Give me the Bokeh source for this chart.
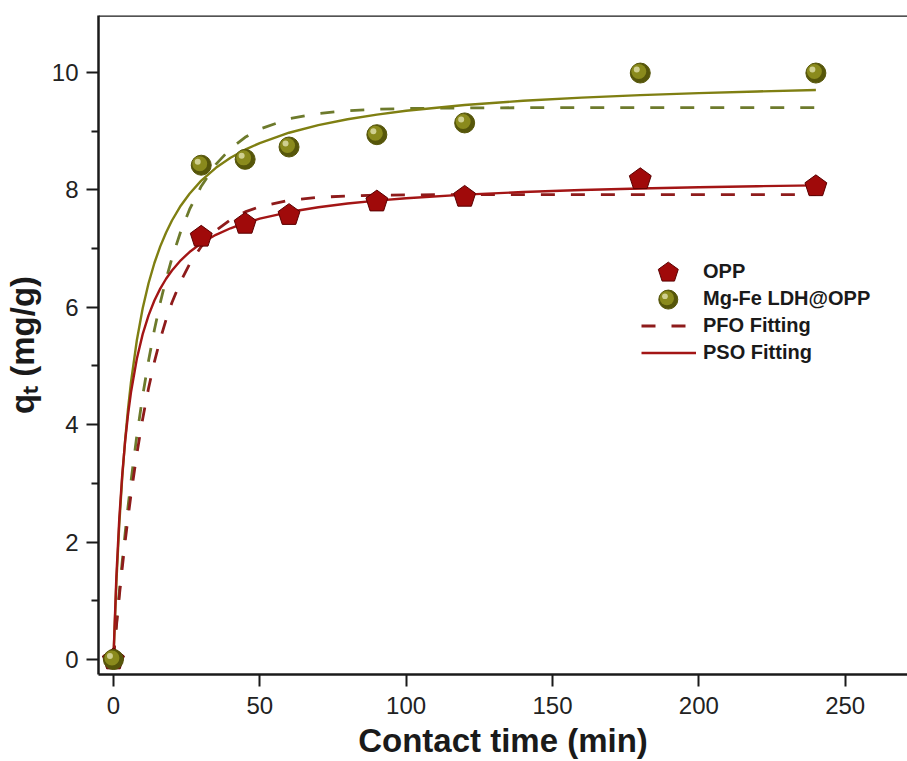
import numpy as np
from bokeh.plotting import figure
from bokeh.models import (Legend, LegendItem, Span, FixedTicker,
                          ColumnDataSource, Range1d)
from bokeh.embed import file_html
from bokeh.resources import INLINE

# ---------------- data ----------------
time_pts = [0, 30, 45, 60, 90, 120, 180, 240]
opp_q = [0.0, 7.20, 7.42, 7.57, 7.80, 7.88, 8.18, 8.06]
ldh_q = [0.0, 8.42, 8.52, 8.73, 8.94, 9.14, 9.99, 9.99]

fit_t = [0, 1, 2, 3, 4, 5, 6, 8, 10, 12, 14, 16, 18, 20, 23, 26, 30, 35, 40,
         45, 50, 60, 70, 80, 90, 100, 120, 140, 160, 180, 200, 220, 240]
opp_pfo = [0.0, 0.558, 1.076, 1.558, 2.005, 2.422, 2.809, 3.503, 4.103, 4.622,
           5.070, 5.457, 5.791, 6.081, 6.442, 6.733, 7.034, 7.305, 7.493,
           7.624, 7.714, 7.821, 7.872, 7.897, 7.909, 7.915, 7.919, 7.920,
           7.920, 7.920, 7.920, 7.920, 7.920]
ldh_pfo = [0.0, 0.591, 1.146, 1.666, 2.152, 2.608, 3.035, 3.812, 4.493, 5.091,
           5.617, 6.077, 6.482, 6.838, 7.292, 7.666, 8.062, 8.434, 8.702,
           8.895, 9.035, 9.210, 9.301, 9.348, 9.373, 9.386, 9.396, 9.399,
           9.400, 9.400, 9.400, 9.400, 9.400]
opp_pso = [0.0, 1.405, 2.400, 3.142, 3.718, 4.176, 4.550, 5.123, 5.543, 5.863,
           6.115, 6.318, 6.486, 6.627, 6.801, 6.941, 7.090, 7.234, 7.346,
           7.436, 7.509, 7.622, 7.704, 7.768, 7.817, 7.858, 7.919, 7.963,
           7.997, 8.023, 8.044, 8.062, 8.076]
ldh_pso = [0.0, 1.300, 2.301, 3.094, 3.739, 4.273, 4.723, 5.438, 5.982, 6.409,
           6.754, 7.038, 7.275, 7.478, 7.730, 7.935, 8.157, 8.375, 8.546,
           8.684, 8.797, 8.973, 9.103, 9.203, 9.282, 9.347, 9.445, 9.517,
           9.571, 9.614, 9.648, 9.676, 9.700]

x_ticks = [0, 50, 100, 150, 200, 250]
y_ticks = [0, 2, 4, 6, 8, 10]
y_minor = [1, 3, 5, 7, 9]

RED = "#a00a0a"
RED_EDGE = "#5a0000"
RED_LINE = "#a31515"
RED_DASH = "#8e1b1b"
OLIVE_EDGE = "#56560a"
OLIVE_MID = "#8a8a1c"
OLIVE_HI = "#d6d69c"
OLIVE_LINE = "#7f7f12"
OLIVE_DASH = "#6d7a2c"
FONT = "Liberation Sans"

X_RANGE = (-5.1, 271.3)
Y_RANGE = (-0.255, 10.97)
LEFT, TOP = 97, 15                 # frame offset in px
PLOT_W, PLOT_H = 810, 660          # frame size in px
px_x = (X_RANGE[1] - X_RANGE[0]) / PLOT_W
px_y = (Y_RANGE[1] - Y_RANGE[0]) / PLOT_H


def pentagon(cx, cy, r_px):
    ang = np.pi / 2 + 2 * np.pi * np.arange(5) / 5
    return list(cx + r_px * px_x * np.cos(ang)), list(cy + r_px * px_y * np.sin(ang))


def screen_to_data(sx, sy):
    return X_RANGE[0] + (sx - LEFT) * px_x, Y_RANGE[1] - (sy - TOP) * px_y


p = figure(width=907, height=761, output_backend="svg", toolbar_location=None,
           x_range=Range1d(*X_RANGE), y_range=Range1d(*Y_RANGE),
           min_border_left=LEFT, min_border_right=0, min_border_top=TOP,
           min_border_bottom=86)
p.outline_line_color = None
p.grid.visible = False
p.background_fill_color = "white"
p.border_fill_color = "white"

# axes
p.xaxis.ticker = FixedTicker(ticks=x_ticks)
p.yaxis.ticker = FixedTicker(ticks=y_ticks, minor_ticks=y_minor)
for ax in (p.xaxis[0], p.yaxis[0]):
    ax.axis_line_width = 2.5
    ax.axis_line_color = "#1a1a1a"
    ax.major_tick_line_width = 2
    ax.major_tick_line_color = "#1a1a1a"
    ax.minor_tick_line_width = 2
    ax.minor_tick_line_color = "#1a1a1a"
    ax.major_tick_in = 0
    ax.major_tick_out = 12
    ax.minor_tick_in = 0
    ax.minor_tick_out = 7
    ax.major_label_text_font = FONT
    ax.major_label_text_font_size = "24px"
    ax.major_label_text_color = "#222222"
    ax.axis_label_text_font = FONT
    ax.axis_label_text_font_style = "bold"
    ax.axis_label_text_color = "#1a1a1a"
p.xaxis.major_label_standoff = 10
p.yaxis.major_label_standoff = 8
p.xaxis.axis_label = "Contact time (min)"
p.xaxis.axis_label_text_font_size = "33px"
p.xaxis.axis_label_standoff = 5
p.yaxis.axis_label = "q\u209c (mg/g)"
p.yaxis.axis_label_text_font_size = "33px"
p.yaxis.axis_label_standoff = 8

# top frame line
p.add_layout(Span(location=Y_RANGE[1], dimension="width", line_color="#1a1a1a",
                  line_width=2.5))

# fitted curves
r_ldh_pfo = p.line(fit_t, ldh_pfo, line_color=OLIVE_DASH, line_width=2.8,
                   line_dash="14 16")
r_opp_pfo = p.line(fit_t, opp_pfo, line_color=RED_DASH, line_width=2.8,
                   line_dash="14 16")
r_ldh_pso = p.line(fit_t, ldh_pso, line_color=OLIVE_LINE, line_width=2.4)
r_opp_pso = p.line(fit_t, opp_pso, line_color=RED_LINE, line_width=2.4)

# pentagon markers (OPP)
pent_xs, pent_ys = [], []
for t, q in zip(time_pts, opp_q):
    xs, ys = pentagon(t, q, 11.5)
    pent_xs.append(xs)
    pent_ys.append(ys)
p.patches(pent_xs, pent_ys, fill_color=RED, line_color=RED_EDGE, line_width=1)


# sphere markers (Mg-Fe LDH@OPP)
def sphere(tx, qy, size):
    tx = np.asarray(tx, dtype=float)
    qy = np.asarray(qy, dtype=float)
    p.scatter(tx, qy, size=size, marker="circle", fill_color=OLIVE_EDGE,
              line_color=OLIVE_EDGE, line_width=1)
    k = size / 20.0
    p.scatter(tx - 1.5 * k * px_x, qy + 1.5 * k * px_y, size=15 * k,
              marker="circle", fill_color=OLIVE_MID, line_color=None)
    p.scatter(tx - 3.5 * k * px_x, qy + 3.5 * k * px_y, size=6 * k,
              marker="circle", fill_color=OLIVE_HI, line_color=None,
              fill_alpha=0.9)


sphere(time_pts, ldh_q, 20)

# legend: texts and line samples via Legend, marker symbols drawn alongside
dummy = p.scatter([], [], size=1, fill_alpha=0, line_alpha=0)
legend = Legend(items=[
    LegendItem(label="OPP", renderers=[dummy]),
    LegendItem(label="Mg-Fe LDH@OPP", renderers=[dummy]),
    LegendItem(label="PFO Fitting", renderers=[r_opp_pfo]),
    LegendItem(label="PSO Fitting", renderers=[r_opp_pso]),
], location=(543, 308))
legend.border_line_color = None
legend.background_fill_alpha = 0
legend.label_text_font = FONT
legend.label_text_font_style = "bold"
legend.label_text_font_size = "20px"
legend.label_text_color = "#1a1a1a"
legend.glyph_width = 55
legend.glyph_height = 27
legend.label_height = 20
legend.spacing = 0
legend.padding = 0
legend.margin = 0
legend.label_standoff = 7
p.add_layout(legend, "center")

# legend symbols: row centres of the legend above
row_x = LEFT + 543 + 55 / 2
row1_y = TOP + PLOT_H - 308 - 4 * 27 + 27 / 2
lx, ly = screen_to_data(row_x, row1_y)
xs, ys = pentagon(lx, ly, 10.5)
p.patch(xs, ys, fill_color=RED, line_color=RED_EDGE, line_width=1)
lx2, ly2 = screen_to_data(row_x, row1_y + 27)
sphere([lx2], [ly2], 19)

open("out.html", "w").write(file_html(p, INLINE))
